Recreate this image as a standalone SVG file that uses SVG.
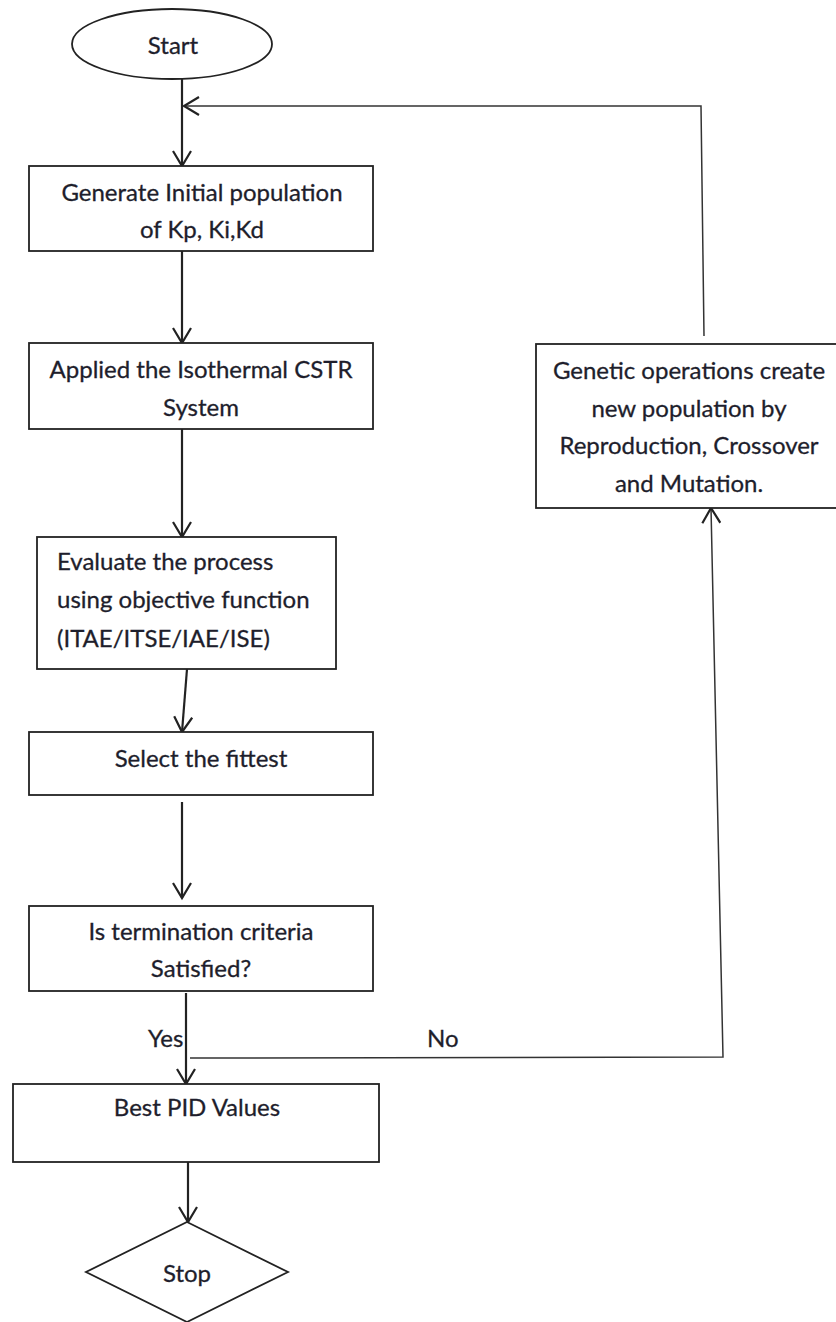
<svg xmlns="http://www.w3.org/2000/svg" width="836" height="1322" viewBox="0 0 836 1322">
  <style>
    .shape { fill: #ffffff; stroke: #222222; stroke-width: 1.8; }
    .flow { fill: none; stroke: #222222; stroke-width: 2.2; }
    .loop { fill: none; stroke: #333333; stroke-width: 1.5; }
    .label { font-family: Lato, "Liberation Sans", sans-serif; font-size: 24px; fill: #1e1e2c; stroke: #1e1e2c; stroke-width: 0.3; }
    .mid { text-anchor: middle; }
  </style>
  <defs>
    <marker id="chevron" markerUnits="userSpaceOnUse" viewBox="0 0 20 20" refX="17" refY="10" markerWidth="20" markerHeight="20" orient="auto">
      <path d="M2,1 L17,10 L2,19" fill="none" stroke="#222222" stroke-width="2.2"/>
    </marker>
  </defs>

  <rect width="836" height="1322" fill="#ffffff"/>

  <g id="connectors">
    <path class="flow" d="M182,79 L182,166" marker-end="url(#chevron)"/>
    <path class="loop" d="M704,336 L701,106 L184,106" marker-end="url(#chevron)"/>
    <path class="flow" d="M182,251 L182,343" marker-end="url(#chevron)"/>
    <path class="flow" d="M182,429 L182,537" marker-end="url(#chevron)"/>
    <path class="flow" d="M187,669 L182,732" marker-end="url(#chevron)"/>
    <path class="flow" d="M182,802 L182,898" marker-end="url(#chevron)"/>
    <path class="flow" d="M186,993 L186,1084" marker-end="url(#chevron)"/>
    <path class="loop" d="M190,1058 L723,1057 L711,508" marker-end="url(#chevron)"/>
    <path class="flow" d="M188,1162 L188,1222" marker-end="url(#chevron)"/>
    <text class="label" x="148" y="1047">Yes</text>
    <text class="label" x="427" y="1047">No</text>
  </g>

  <g id="start">
    <ellipse class="shape" cx="172" cy="44" rx="100" ry="35"/>
    <text class="label mid" x="173" y="54">Start</text>
  </g>

  <g id="init-population">
    <rect class="shape" x="29" y="166" width="344" height="85"/>
    <text class="label mid" x="202" y="201">Generate Initial population</text>
    <text class="label mid" x="202" y="238">of Kp, Ki,Kd</text>
  </g>

  <g id="apply-cstr">
    <rect class="shape" x="29" y="343" width="344" height="86"/>
    <text class="label mid" x="201" y="378">Applied the Isothermal CSTR</text>
    <text class="label mid" x="201" y="416">System</text>
  </g>

  <g id="evaluate">
    <rect class="shape" x="37" y="537" width="299" height="132"/>
    <text class="label" x="57" y="570">Evaluate the process</text>
    <text class="label" x="57" y="608">using objective function</text>
    <text class="label" x="57" y="647">(ITAE/ITSE/IAE/ISE)</text>
  </g>

  <g id="select">
    <rect class="shape" x="29" y="732" width="344" height="63"/>
    <text class="label mid" x="201" y="767">Select the fittest</text>
  </g>

  <g id="termination">
    <rect class="shape" x="29" y="906" width="344" height="85"/>
    <text class="label mid" x="201" y="940">Is termination criteria</text>
    <text class="label mid" x="201" y="977">Satisfied?</text>
  </g>

  <g id="best-pid">
    <rect class="shape" x="13" y="1084" width="366" height="78"/>
    <text class="label mid" x="197" y="1116">Best PID Values</text>
  </g>

  <g id="genetic-ops">
    <rect class="shape" x="536" y="344" width="310" height="164"/>
    <text class="label mid" x="689" y="379">Genetic operations create</text>
    <text class="label mid" x="689" y="417">new population by</text>
    <text class="label mid" x="689" y="454">Reproduction, Crossover</text>
    <text class="label mid" x="689" y="492">and Mutation.</text>
  </g>

  <g id="stop">
    <polygon class="shape" points="187,1222 288,1272 187,1322 86,1272"/>
    <text class="label mid" x="187" y="1282">Stop</text>
  </g>
</svg>
